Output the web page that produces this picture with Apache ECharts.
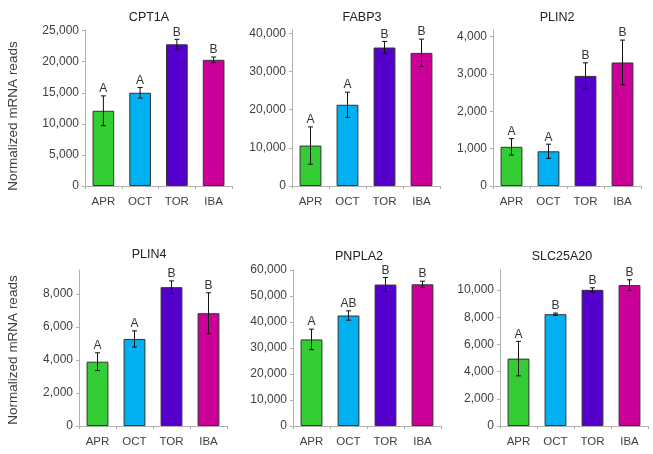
<!DOCTYPE html>
<html>
<head>
<meta charset="utf-8">
<script src="https://cdn.jsdelivr.net/npm/echarts@6/dist/echarts.min.js"></script>
<style>
html,body{margin:0;padding:0;background:#fff;}
#c{width:653px;height:454px;}
</style>
</head>
<body>
<div id="c"></div>
<script>
const categories = ['APR', 'OCT', 'TOR', 'IBA'];
const barColors = ['#33cc33', '#00b0f0', '#5500cc', '#cc0099'];
const yAxisName = 'Normalized mRNA reads';

const geneNames = ['CPT1A', 'FABP3', 'PLIN2', 'PLIN4', 'PNPLA2', 'SLC25A20'];

const cpt1aMean = [12100, 15000, 22800, 20300];
const cpt1aErr = [2400, 850, 800, 450];
const cpt1aSig = ['A', 'A', 'B', 'B'];

const fabp3Mean = [10600, 21300, 36300, 34900];
const fabp3Err = [4900, 3300, 1600, 3600];
const fabp3Sig = ['A', 'A', 'B', 'B'];

const plin2Mean = [1050, 930, 2950, 3310];
const plin2Err = [220, 190, 350, 600];
const plin2Sig = ['A', 'A', 'B', 'B'];

const plin4Mean = [3900, 5280, 8420, 6840];
const plin4Err = [540, 490, 380, 1240];
const plin4Sig = ['A', 'A', 'B', 'B'];

const pnpla2Mean = [33300, 42500, 54400, 54500];
const pnpla2Err = [3950, 1800, 2700, 1200];
const pnpla2Sig = ['A', 'AB', 'B', 'B'];

const slc25a20Mean = [4960, 8230, 10020, 10370];
const slc25a20Err = [1270, 80, 150, 390];
const slc25a20Sig = ['A', 'B', 'B', 'B'];

const cpt1aTicks = [0, 5000, 10000, 15000, 20000, 25000];
const fabp3Ticks = [0, 10000, 20000, 30000, 40000];
const plin2Ticks = [0, 1000, 2000, 3000, 4000];
const plin4Ticks = [0, 2000, 4000, 6000, 8000];
const pnpla2Ticks = [0, 10000, 20000, 30000, 40000, 50000, 60000];
const slc25a20Ticks = [0, 2000, 4000, 6000, 8000, 10000];

const panels = [
  {name: geneNames[0], mean: cpt1aMean, err: cpt1aErr, sig: cpt1aSig, ticks: cpt1aTicks, max: 25100,
   grid: {left: 85, top: 30, width: 147, height: 156}, title: [144, 6]},
  {name: geneNames[1], mean: fabp3Mean, err: fabp3Err, sig: fabp3Sig, ticks: fabp3Ticks, max: 40900,
   grid: {left: 292, top: 30, width: 148, height: 156}, title: [357, 6]},
  {name: geneNames[2], mean: plin2Mean, err: plin2Err, sig: plin2Sig, ticks: plin2Ticks, max: 4180,
   grid: {left: 493, top: 30, width: 148, height: 156}, title: [552, 6]},
  {name: geneNames[3], mean: plin4Mean, err: plin4Err, sig: plin4Sig, ticks: plin4Ticks, max: 9460,
   grid: {left: 79, top: 270, width: 148, height: 156}, title: [144, 243]},
  {name: geneNames[4], mean: pnpla2Mean, err: pnpla2Err, sig: pnpla2Sig, ticks: pnpla2Ticks, max: 60000,
   grid: {left: 293, top: 270, width: 148, height: 156}, title: [354, 245]},
  {name: geneNames[5], mean: slc25a20Mean, err: slc25a20Err, sig: slc25a20Sig, ticks: slc25a20Ticks, max: 11480,
   grid: {left: 500, top: 270, width: 148, height: 156}, title: [557, 245]}
];

const FONT = 'Liberation Sans, Arial, sans-serif';
const TXT = '#404040';

function makeRender(errs, sigs) {
  return function (params, api) {
    const i = api.value(0);
    const v = api.value(1);
    const e = errs[params.dataIndex];
    const top = api.coord([i, v + e]);
    const bot = api.coord([i, v - e]);
    const cw = 2.5;
    return {
      type: 'group',
      children: [
        {type: 'line', shape: {x1: top[0], y1: top[1], x2: bot[0], y2: bot[1]}, style: {stroke: '#111', lineWidth: 1}},
        {type: 'line', shape: {x1: top[0] - cw, y1: top[1], x2: top[0] + cw, y2: top[1]}, style: {stroke: '#111', lineWidth: 1}},
        {type: 'line', shape: {x1: bot[0] - cw, y1: bot[1], x2: bot[0] + cw, y2: bot[1]}, style: {stroke: '#111', lineWidth: 1}},
        {type: 'text', style: {text: sigs[params.dataIndex], x: top[0], y: top[1] - 1, align: 'center', verticalAlign: 'bottom',
          font: '12px ' + FONT, fill: '#333'}}
      ]
    };
  };
}

const option = {
  backgroundColor: '#fff',
  animation: false,
  title: panels.map(p => ({
    text: p.name, left: p.title[0], top: p.title[1], textAlign: 'center',
    textStyle: {fontFamily: FONT, fontSize: 12.5, fontWeight: 'normal', color: '#222'}
  })),
  grid: panels.map(p => Object.assign({containLabel: false}, p.grid)),
  xAxis: panels.map((p, k) => ({
    type: 'category', gridIndex: k, data: categories,
    axisLine: {lineStyle: {color: '#b0b0b0', width: 1}},
    axisTick: {show: true, length: 3, alignWithLabel: false, lineStyle: {color: '#b0b0b0'}},
    axisLabel: {color: TXT, fontFamily: FONT, fontSize: 11.5, margin: 10}
  })),
  yAxis: panels.map((p, k) => ({
    type: 'value', gridIndex: k, min: 0, max: p.max,
    splitLine: {show: false},
    axisLine: {show: true, lineStyle: {color: '#b0b0b0', width: 1}},
    axisTick: {show: true, length: 3, customValues: p.ticks, lineStyle: {color: '#b0b0b0'}},
    axisLabel: {customValues: p.ticks, color: TXT, fontFamily: FONT, fontSize: 12, margin: 6,
      formatter: v => v.toLocaleString('en-US')}
  })),
  graphic: [
    {type: 'text', x: 13, y: 116, rotation: Math.PI / 2,
      style: {text: yAxisName, align: 'center', verticalAlign: 'middle', font: '13.5px ' + FONT, fill: TXT}},
    {type: 'text', x: 13, y: 350, rotation: Math.PI / 2,
      style: {text: yAxisName, align: 'center', verticalAlign: 'middle', font: '13.5px ' + FONT, fill: TXT}}
  ],
  series: []
};

panels.forEach((p, k) => {
  option.series.push({
    type: 'bar', xAxisIndex: k, yAxisIndex: k, barWidth: '59%',
    data: p.mean.map((v, i) => ({value: v, itemStyle: {color: barColors[i]}})),
    itemStyle: {borderColor: '#333', borderWidth: 1}
  });
  option.series.push({
    type: 'custom', xAxisIndex: k, yAxisIndex: k, z: 5, clip: false,
    encode: {x: 0, y: 1},
    data: p.mean.map((v, i) => [i, v]),
    renderItem: makeRender(p.err, p.sig)
  });
});

const chart = echarts.init(document.getElementById('c'), null, {renderer: 'canvas'});
chart.setOption(option);
</script>
</body>
</html>
